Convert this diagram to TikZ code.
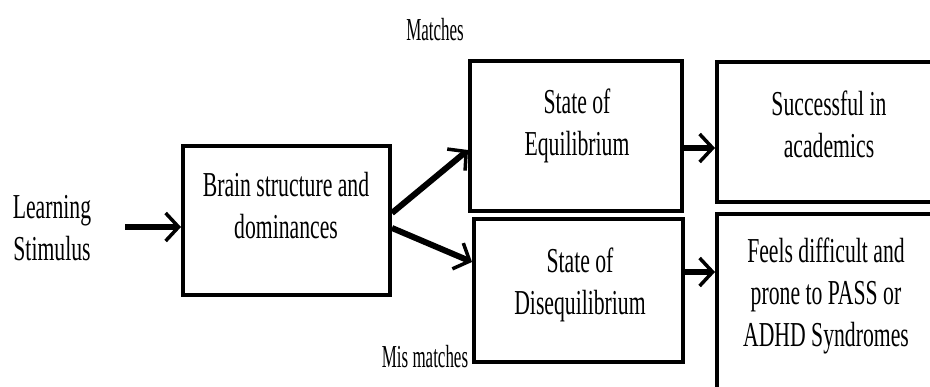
\documentclass[tikz,border=0pt]{standalone}
\usepackage{fontspec}
\setmainfont{Liberation Serif}[FakeStretch=0.62]
\newfontfamily\narrowfont{Liberation Serif}[FakeStretch=0.53]
\usetikzlibrary{arrows.meta}
\begin{document}
\begin{tikzpicture}[x=1pt,y=-1pt,
  boxnode/.style={draw=black, line width=4pt, fill=white, inner sep=0pt},
  txt/.style={inner sep=0pt, align=center, font=\fontsize{35}{42}\selectfont},
  lbl/.style={inner sep=0pt, font=\narrowfont\fontsize{32}{36}\selectfont},
  arr/.style={line width=6pt, -{Straight Barb[length=13pt, width=28pt, line width=3.5pt]}}]
\clip (0,0) rectangle (930,386);
\fill[white] (0,0) rectangle (930,386);
% boxes
\node[boxnode, minimum width=207pt, minimum height=149pt] (b1) at (286.5,220.5) {};
\node[boxnode, minimum width=212pt, minimum height=150pt] (b2) at (576,136) {};
\node[boxnode, minimum width=209pt, minimum height=143pt] (b3) at (578.5,290.5) {};
\node[boxnode, minimum width=228pt, minimum height=140pt] (b4) at (831,132) {};
\node[boxnode, minimum width=228pt, minimum height=196pt] (b5) at (831,312) {};
% texts
\node[txt] (learn) at (52,228) {Learning\\Stimulus};
\node[txt] (t1) at (286,206) {Brain structure and\\dominances};
\node[txt] (t2) at (577,126) {State of\\Equilibrium};
\node[txt] (t3) at (580,285) {State of\\Disequilibrium};
\node[txt] (t4) at (829,124.5) {Successful in\\academics};
\node[txt] (t5) at (826,296) {Feels difficult and\\prone to PASS or\\ADHD Syndromes};
\node[lbl] (m1) at (435,30) {Matches};
\node[lbl] (m2) at (425,356.5) {Mis matches};
% connectors
\coordinate (a0) at ([xshift=34pt]learn.east);
\draw[arr] (a0 |- b1.west) ++(0,6.5) coordinate (a0s) -- ([yshift=-6.5pt]b1.west);
\draw[arr] ([yshift=7.5pt]b1.east) -- ([yshift=-14pt]b2.west);
\draw[arr] ([yshift=-7.5pt]b1.east) -- ([yshift=28.5pt]b3.west);
\coordinate (c1) at ([yshift=-12pt]b2.east);
\draw[arr] (c1) -- (c1 -| b4.west);
\coordinate (c2) at ([yshift=18.5pt]b3.east);
\draw[arr] (c2) -- (c2 -| b5.west);
\end{tikzpicture}
\end{document}
